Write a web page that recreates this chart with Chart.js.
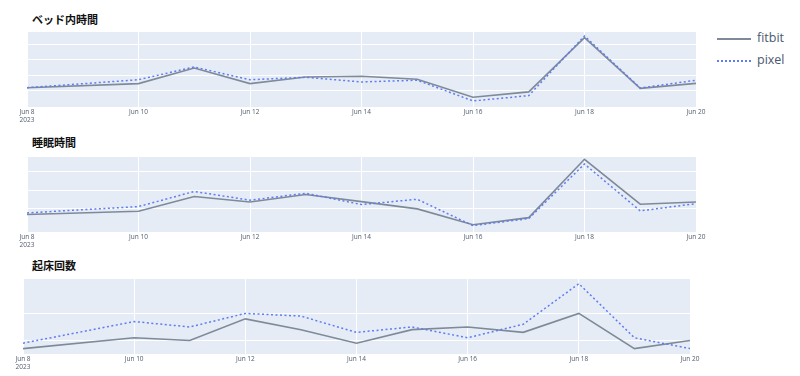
<!DOCTYPE html>
<html><head><meta charset="utf-8">
<script src="https://cdn.jsdelivr.net/npm/chart.js@4/dist/chart.umd.min.js"></script>
<style>
html,body{margin:0;padding:0;background:#fff;width:800px;height:376px;overflow:hidden;position:relative;font-family:"Noto Sans CJK JP","Noto Sans",sans-serif}
canvas{position:absolute;left:0}
.ttl{position:absolute;left:32px;font-weight:bold;font-size:11px;color:#111;line-height:1;font-family:"Noto Sans CJK JP",sans-serif}
.leg{position:absolute;left:717px;font-size:12.5px;color:#4a5870;font-family:"Open Sans","Noto Sans",sans-serif}
.leg span.l{position:absolute;left:0;width:34px;top:0}
.leg span.t{position:absolute;left:40px;top:-9px;white-space:nowrap}
</style></head><body>
<div class="ttl" style="top:14px">ベッド内時間</div>
<div class="ttl" style="top:137px">睡眠時間</div>
<div class="ttl" style="top:260px">起床回数</div>
<div class="leg" style="top:38px"><span class="l" style="border-top:2px solid #7f8a99"></span><span class="t">fitbit</span></div>
<div class="leg" style="top:60px"><span class="l" style="border-top:2px dotted #5f7cf0"></span><span class="t">pixel</span></div>
<canvas id="c1" width="800" height="130" style="top:0"></canvas>
<canvas id="c2" width="800" height="130" style="top:125px"></canvas>
<canvas id="c3" width="800" height="126" style="top:250px"></canvas>
<script>
// dates (day of June 2023); Jun 9 has no record
const days = [8,10,11,12,13,14,15,16,17,18,19,20];
const seriesNames = ['fitbit','pixel'];
// time in bed (hours)
const bedFitbit = [7.21,7.47,8.47,7.47,7.90,7.94,7.75,6.60,6.94,10.42,7.17,7.49];
const bedPixel  = [7.21,7.72,8.54,7.72,7.88,7.58,7.69,6.36,6.70,10.53,7.19,7.69];
// sleep time (hours)
const sleepFitbit = [5.65,5.83,6.64,6.34,6.75,6.36,5.96,5.09,5.48,8.69,6.22,6.34];
const sleepPixel  = [5.74,6.09,6.92,6.44,6.82,6.20,6.49,5.04,5.43,8.43,5.85,6.25];
// wake count
const wakeFitbit = [7,11,10,18,14,9,14,15,13,20,7,10];
const wakePixel  = [9,17,15,20,19,13,15,11,16,31,11,7];
const tickDays = [8,10,12,14,16,18,20];

const bgPlugin = {id:'bg',beforeDraw(c){const a=c.chartArea,x=c.ctx;x.save();x.fillStyle='#E5ECF6';x.fillRect(a.left,a.top,a.right-a.left,a.bottom-a.top);x.restore();}};

function pts(ys){return days.map((d,i)=>({x:d,y:ys[i]}));}

function make(id, f, p, yMin, yMax, step, pad, xh){
  new Chart(document.getElementById(id),{
    type:'line',
    data:{datasets:[
      {label:seriesNames[0],data:pts(f),borderColor:'#7f8a99',borderWidth:1.6,pointRadius:0,tension:0,order:2},
      {label:seriesNames[1],data:pts(p),borderColor:'#5f7cf0',borderWidth:1.5,borderDash:[2,2.5],pointRadius:0,tension:0,order:1}
    ]},
    options:{
      responsive:false,animation:false,
      layout:{padding:pad},
      plugins:{legend:{display:false},tooltip:{enabled:false}},
      scales:{
        x:{type:'linear',min:8,max:20,
          afterBuildTicks(s){s.ticks=tickDays.map(v=>({value:v}));},
          afterFit(s){s.height=xh;},
          grid:{color:'#ffffff',lineWidth:1,drawTicks:false},
          border:{display:false},
          ticks:{autoSkip:false,maxRotation:0,padding:2,color:'#4f5b6e',
            font:{size:6.5,family:'"Open Sans","Noto Sans",sans-serif',lineHeight:1.1},
            callback:(v)=>v===8?['Jun 8','2023']:'Jun '+v}},
        y:{min:yMin,max:yMax,
          afterFit(s){s.width=0;},
          ticks:{display:false,stepSize:step},
          grid:{color:'#ffffff',lineWidth:1,drawTicks:false},
          border:{display:false}}
      }
    },
    plugins:[bgPlugin]
  });
}
make('c1',bedFitbit,bedPixel,5.97,10.85,1,{left:27,right:104,top:31,bottom:0},23);
make('c2',sleepFitbit,sleepPixel,4.69,8.87,1,{left:27,right:104,top:31,bottom:0},23);
make('c3',wakeFitbit,wakePixel,5.0,33.1,10,{left:23,right:110,top:28,bottom:0},22);
</script>
</body></html>
